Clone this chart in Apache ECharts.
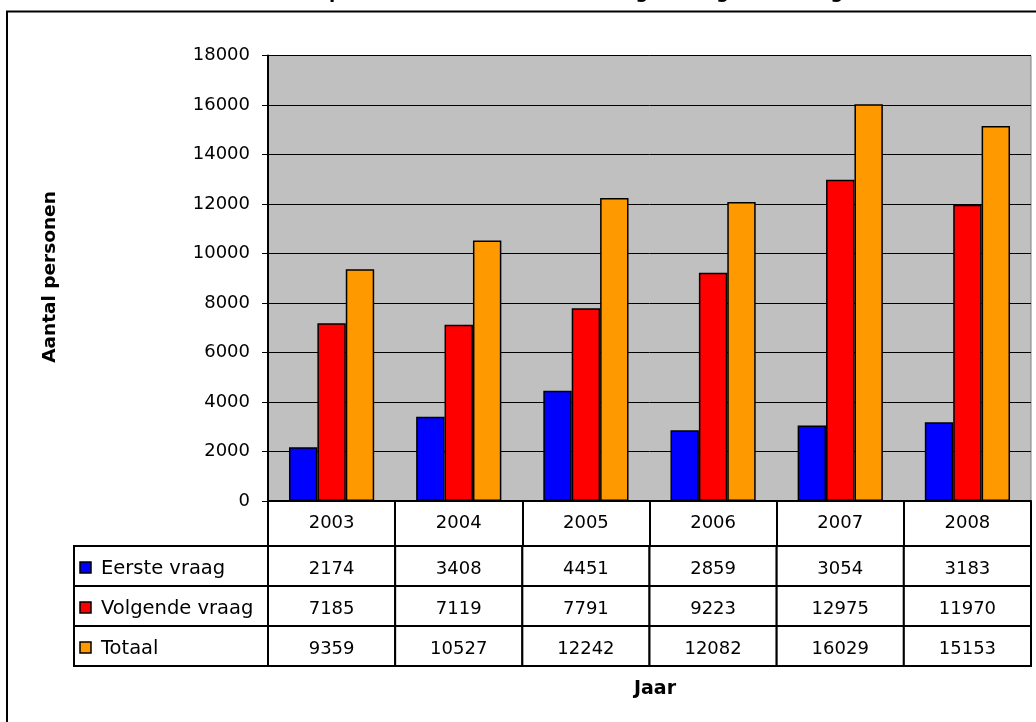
<!DOCTYPE html>
<html>
<head>
<meta charset="utf-8">
<script src="https://cdn.jsdelivr.net/npm/echarts@6/dist/echarts.min.js"></script>
<style>
  html, body { margin: 0; padding: 0; background: #ffffff; }
  #chart { width: 1036px; height: 722px; }
</style>
</head>
<body>
<div id="chart"></div>
<script>
// ---- data ----
const years = ['2003', '2004', '2005', '2006', '2007', '2008'];
const eersteVraag = [2174, 3408, 4451, 2859, 3054, 3183];
const volgendeVraag = [7185, 7119, 7791, 9223, 12975, 11970];
const totaal = [9359, 10527, 12242, 12082, 16029, 15153];
const seriesNames = ['Eerste vraag', 'Volgende vraag', 'Totaal'];
const yMin = 0, yMax = 18000, yStep = 2000;
const titleText = 'Aantal personen met een eerste vraag en volgende vraag';
const yAxisTitle = 'Aantal personen';
const xAxisTitle = 'Jaar';

// ---- styles ----
const colors = ['#0000FF', '#FF0000', '#FF9900'];
const FONT = '"DejaVu Sans", Verdana, sans-serif';
const seriesValues = [eersteVraag, volgendeVraag, totaal];

const chart = echarts.init(document.getElementById('chart'), null, { renderer: 'canvas' });

const cellData = [];
seriesValues.forEach((vals, r) => vals.forEach((v, c) => cellData.push([c, r, v])));
const rowData = seriesNames.map((n, r) => [0, r]);

const option = {
  animation: false,
  backgroundColor: '#ffffff',
  graphic: [
    { type: 'rect', shape: { x: 7, y: 11.5, width: 1200, height: 900 },
      style: { fill: 'none', stroke: '#000', lineWidth: 2 }, z: 0 },
    { type: 'text', x: 257, y: 2, style: { text: titleText, font: 'bold 18px ' + FONT,
      fill: '#000', align: 'left', verticalAlign: 'bottom' } },
    { type: 'text', x: 50, y: 277, rotation: Math.PI / 2,
      style: { text: yAxisTitle, font: 'bold 18.5px ' + FONT, fill: '#000', align: 'center', verticalAlign: 'middle' } },
    { type: 'text', x: 655, y: 689,
      style: { text: xAxisTitle, font: 'bold 19px ' + FONT, fill: '#000', align: 'center', verticalAlign: 'middle' } }
  ],
  grid: [
    { left: 268, right: 5, top: 55.5, bottom: 221, show: true, backgroundColor: '#C0C0C0',
      borderColor: '#808080', borderWidth: 1 },
    { left: 268, right: 5, top: 546, height: 120 }
  ],
  xAxis: [
    { type: 'category', gridIndex: 0, data: years,
      axisLine: { show: true, lineStyle: { color: '#000', width: 2 } },
      axisTick: { show: true, length: 45, interval: 0, lineStyle: { color: '#000', width: 2 } },
      axisLabel: { margin: 13, fontSize: 18, color: '#000', fontFamily: FONT, interval: 0 },
      splitLine: { show: false } },
    { type: 'category', gridIndex: 1, data: years, show: false }
  ],
  yAxis: [
    { type: 'value', gridIndex: 0, min: yMin, max: yMax, interval: yStep,
      axisLine: { show: true, lineStyle: { color: '#000', width: 2 } },
      axisTick: { show: true, length: 6, lineStyle: { color: '#000', width: 1 } },
      axisLabel: { margin: 18, fontSize: 18, color: '#000', fontFamily: FONT,
        formatter: function (v) { return String(v); } },
      splitLine: { show: true, lineStyle: { color: '#000', width: 1 } } },
    { type: 'category', gridIndex: 1, data: seriesNames, inverse: true, show: false }
  ],
  series: [
    ...seriesNames.map((name, i) => ({
      type: 'bar', name: name, xAxisIndex: 0, yAxisIndex: 0,
      data: seriesValues[i],
      barGap: '0%', barCategoryGap: '33%',
      itemStyle: { color: colors[i], borderColor: '#000', borderWidth: 1.5 }
    })),
    {
      type: 'custom', name: 'tabel', xAxisIndex: 1, yAxisIndex: 1, clip: false,
      encode: { x: 0, y: 1 },
      data: cellData,
      renderItem: function (params, api) {
        const c = api.coord([api.value(0), api.value(1)]);
        const s = api.size([1, 1]);
        return { type: 'group', children: [
          { type: 'rect', shape: { x: c[0] - s[0] / 2, y: c[1] - s[1] / 2, width: s[0], height: s[1] },
            style: { fill: '#fff', stroke: '#000', lineWidth: 2 } },
          { type: 'text', x: c[0], y: c[1] + 3,
            style: { text: String(api.value(2)), fill: '#000', font: '18px ' + FONT, align: 'center', verticalAlign: 'middle' } }
        ] };
      }
    },
    {
      type: 'custom', name: 'rijen', xAxisIndex: 1, yAxisIndex: 1, clip: false,
      encode: { x: 0, y: 1 },
      data: rowData,
      renderItem: function (params, api) {
        const r = api.value(1);
        const c = api.coord([0, r]);
        const s = api.size([1, 1]);
        const right = params.coordSys.x;
        const left = right - 194;
        const top = c[1] - s[1] / 2;
        return { type: 'group', children: [
          { type: 'rect', shape: { x: left, y: top, width: right - left, height: s[1] },
            style: { fill: '#fff', stroke: '#000', lineWidth: 2 } },
          { type: 'rect', shape: { x: left + 6, y: c[1] - 4, width: 11, height: 11 },
            style: { fill: colors[r], stroke: '#000', lineWidth: 1.5 } },
          { type: 'text', x: left + 27, y: c[1] + 3,
            style: { text: seriesNames[r], fill: '#000', font: '19.5px ' + FONT, align: 'left', verticalAlign: 'middle' } }
        ] };
      }
    }
  ]
};
chart.setOption(option);
</script>
</body>
</html>
